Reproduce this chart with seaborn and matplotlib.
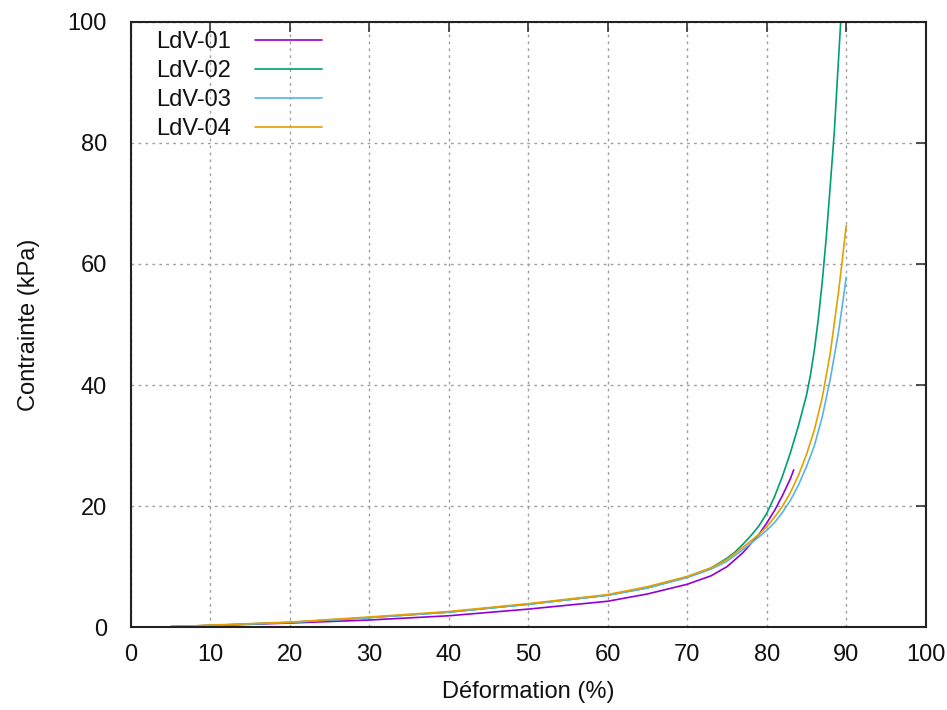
import pandas as pd
import matplotlib
matplotlib.use("Agg")
import matplotlib.pyplot as plt
import seaborn as sns

sns.set_style("white")
plt.rcParams["font.family"] = ["Liberation Sans", "DejaVu Sans"]
plt.rcParams["text.color"] = "#111111"
plt.rcParams["axes.labelcolor"] = "#111111"
plt.rcParams["xtick.labelcolor"] = "#111111"
plt.rcParams["ytick.labelcolor"] = "#111111"

# (strain in %, stress in kPa)
strain_01 = [5, 10, 20, 30, 40, 50, 60, 65, 70, 73, 75, 77, 79, 80, 81, 82, 83, 83.4]
stress_01 = [0.1, 0.3, 0.7, 1.2, 1.9, 3.0, 4.3, 5.5, 7.1, 8.5, 10.0, 12.3, 15.3, 17.2, 19.3, 21.8, 24.6, 26.0]

strain_02 = [5, 10, 20, 30, 40, 50, 60, 65, 70, 73, 75, 76, 77, 78, 79, 80, 81, 82, 83, 84, 85,
             85.5, 86, 86.5, 87, 87.5, 88, 88.5, 89, 89.4]
stress_02 = [0.1, 0.3, 0.8, 1.6, 2.5, 3.8, 5.3, 6.5, 8.3, 9.8, 11.4, 12.4, 13.7, 15.1, 16.7, 18.8, 21.6,
             25.0, 28.9, 33.3, 38.3, 41.6, 45.8, 51.0, 57.2, 64.5, 73.0, 81.7, 93.0, 102.0]

strain_03 = [5, 10, 20, 30, 40, 50, 60, 65, 70, 73, 75, 77, 79, 80, 81, 82, 83, 84, 85, 86,
             87, 88, 89, 89.5, 90]
stress_03 = [0.1, 0.3, 0.8, 1.6, 2.5, 3.8, 5.3, 6.5, 8.2, 9.6, 10.9, 12.8, 14.9, 16.0, 17.3, 19.0,
             21.0, 23.5, 26.5, 30.0, 34.8, 41.0, 48.5, 53.0, 57.8]

strain_04 = [5, 10, 20, 30, 40, 50, 60, 65, 70, 73, 75, 77, 79, 80, 81, 82, 83, 84, 85,
             86, 87, 88, 89, 89.5, 90]
stress_04 = [0.1, 0.35, 0.85, 1.7, 2.6, 3.9, 5.4, 6.7, 8.4, 9.8, 11.2, 13.2, 15.3, 16.6, 18.2, 20.0,
             22.3, 25.1, 28.5, 32.6, 38.0, 45.3, 55.0, 60.5, 66.3]

samples = ["LdV-01", "LdV-02", "LdV-03", "LdV-04"]
colors = ["#9400d3", "#009e73", "#56b4e9", "#e69f00"]

frames = []
for name, x, y in zip(samples,
                      [strain_01, strain_02, strain_03, strain_04],
                      [stress_01, stress_02, stress_03, stress_04]):
    frames.append(pd.DataFrame({"strain": x, "stress": y, "sample": name}))
df = pd.concat(frames, ignore_index=True)

fig = plt.figure(figsize=(9.47, 7.10), dpi=100)
ax = fig.add_axes([0.138, 0.1165, 0.8395, 0.853])

sns.lineplot(data=df, x="strain", y="stress", hue="sample", palette=colors,
             sort=False, estimator=None, linewidth=1.2, ax=ax)

ax.set_xlim(0, 100)
ax.set_ylim(0, 100)
ax.set_xticks(range(0, 101, 10))
ax.set_yticks(range(0, 101, 20))
ax.set_xlabel("Déformation (%)", fontsize=17, labelpad=11)
ax.set_ylabel("Contrainte (kPa)", fontsize=17, labelpad=20)

ax.grid(True, color="#a0a0a0", linestyle=(0, (2, 3)), linewidth=1)
ax.tick_params(direction="in", top=True, right=True, length=7, width=1.2,
               color="#333333", labelsize=17)
ax.tick_params(axis="x", pad=12)
ax.tick_params(axis="y", pad=17)
for s in ax.spines.values():
    s.set_color("#222222")
    s.set_linewidth(1.5)

leg = ax.legend(loc="upper left", bbox_to_anchor=(0.02, 1.0), borderaxespad=0,
                frameon=False, markerfirst=False, fontsize=17, handlelength=2.85,
                handletextpad=1.0, labelspacing=0.3)

fig.savefig("out.png", dpi=100)
plt.close()
